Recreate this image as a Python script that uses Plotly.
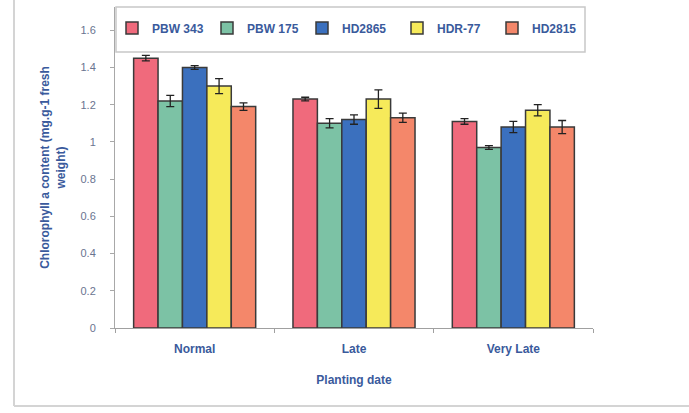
import plotly.graph_objects as go

categories = ["Normal", "Late", "Very Late"]
varieties = ["PBW 343", "PBW 175", "HD2865", "HDR-77", "HD2815"]

pbw343 = [1.45, 1.23, 1.11]
pbw175 = [1.22, 1.10, 0.97]
hd2865 = [1.40, 1.12, 1.08]
hdr77 = [1.30, 1.23, 1.17]
hd2815 = [1.19, 1.13, 1.08]

err_pbw343 = [0.015, 0.01, 0.015]
err_pbw175 = [0.03, 0.025, 0.01]
err_hd2865 = [0.01, 0.025, 0.03]
err_hdr77 = [0.04, 0.05, 0.03]
err_hd2815 = [0.02, 0.025, 0.035]

values = [pbw343, pbw175, hd2865, hdr77, hd2815]
errors = [err_pbw343, err_pbw175, err_hd2865, err_hdr77, err_hd2815]
colors = ["#f06a7c", "#7cc2a5", "#3b70be", "#f6ea5a", "#f4876a"]

yticks = [0, 0.2, 0.4, 0.6, 0.8, 1.0, 1.2, 1.4, 1.6]

blue = "#3a5a9c"
font_fam = "Liberation Sans, Arial, sans-serif"

fig = go.Figure()
for name, vals, errs, col in zip(varieties, values, errors, colors):
    fig.add_trace(go.Bar(
        name=name, x=categories, y=vals,
        marker=dict(color=col, line=dict(color="#3a3a3a", width=1.5)),
        error_y=dict(type="data", array=errs, visible=True,
                     color="#222222", thickness=1.3, width=4),
    ))

W, H = 689, 413
# paper region (margins) and plot region inside it (via axis domain)
L, R, T, B = 100, 0, 7, 85
AX0, AX1 = 115, 593  # plot area x pixel extent
pw = W - L - R
ph = H - T - B

def px_x(px):
    return (px - L) / pw

def px_y(py):
    return (H - B - py) / ph

shapes = [
    # legend box
    dict(type="rect", xref="paper", yref="paper",
         x0=px_x(116), x1=px_x(585), y0=px_y(52), y1=px_y(7),
         line=dict(color="#c8c8c8", width=1.5), fillcolor="rgba(0,0,0,0)"),
    # outer frame left and bottom
    dict(type="line", xref="paper", yref="paper",
         x0=px_x(14), x1=px_x(14), y0=px_y(406), y1=px_y(0),
         line=dict(color="#d4d4d4", width=2)),
    dict(type="line", xref="paper", yref="paper",
         x0=px_x(14), x1=px_x(689), y0=px_y(406), y1=px_y(406),
         line=dict(color="#d4d4d4", width=2)),
]

fig.update_layout(
    width=W, height=H,
    margin=dict(l=L, r=R, t=T, b=B),
    paper_bgcolor="white", plot_bgcolor="white",
    barmode="group", bargap=0.234, bargroupgap=0,
    font=dict(family=font_fam, color=blue),
    showlegend=True,
    legend=dict(
        orientation="h", x=px_x(112), y=px_y(28), xanchor="left", yanchor="middle",
        entrywidth=50, entrywidthmode="pixels",
        itemwidth=30,
        font=dict(size=12, color=blue, family=font_fam, weight="bold"),
        bgcolor="rgba(0,0,0,0)", borderwidth=0,
    ),
    shapes=shapes,
    xaxis=dict(
        domain=[px_x(AX0), px_x(AX1)],
        showline=True, linecolor="#a0a0a0", linewidth=1,
        ticks="outside", tickson="boundaries", ticklen=4, tickcolor="#a0a0a0",
        tickfont=dict(size=12, color=blue, family=font_fam, weight="bold"),
        ticklabelstandoff=10,
        title=dict(text="<b>Planting date</b>", font=dict(size=12, color=blue), standoff=20),
        showgrid=False,
    ),
    yaxis=dict(
        range=[0, 1.725], tickvals=yticks,
        showline=True, linecolor="#a8a8a8", linewidth=1,
        ticks="outside", ticklen=4, tickcolor="#a8a8a8",
        tickfont=dict(size=11, color="#6a7490", family=font_fam),
        ticklabelstandoff=12,
        showgrid=False, zeroline=False,
        title=dict(text="<b>Chlorophyll a content (mg.g-1 fresh<br>weight)</b>",
                   font=dict(size=12, color=blue), standoff=12),
    ),
)

fig.write_html("out.html")
